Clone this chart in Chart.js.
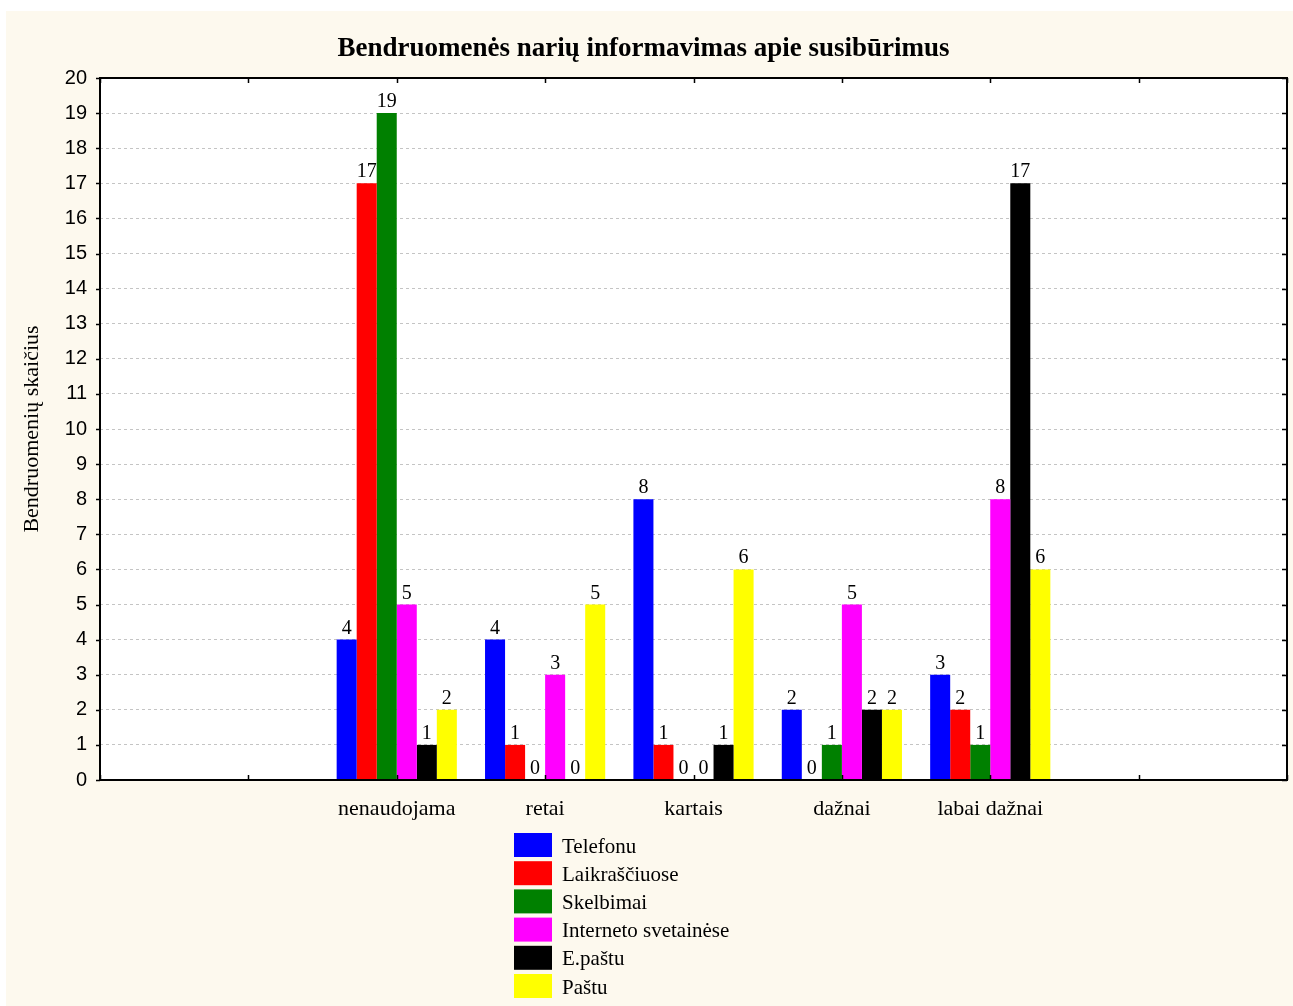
<!DOCTYPE html>
<html>
<head>
<meta charset="utf-8">
<script src="https://cdn.jsdelivr.net/npm/chart.js@4/dist/chart.umd.min.js"></script>
<style>
html,body{margin:0;padding:0;background:#ffffff;}
#wrap{position:absolute;left:0;top:0;width:1293px;height:1006px;}
</style>
</head>
<body>
<div id="wrap"><canvas id="c" width="1293" height="1006"></canvas></div>
<script>
const categories = ['nenaudojama', 'retai', 'kartais', 'dažnai', 'labai dažnai'];
const seriesNames = ['Telefonu', 'Laikraščiuose', 'Skelbimai', 'Interneto svetainėse', 'E.paštu', 'Paštu'];
const telefonu = [4, 4, 8, 2, 3];
const laikrasciuose = [17, 1, 1, 0, 2];
const skelbimai = [19, 0, 0, 1, 1];
const interneto = [5, 3, 0, 5, 8];
const epastu = [1, 0, 1, 2, 17];
const pastu = [2, 5, 6, 2, 6];
const seriesColors = ['#0000ff', '#ff0000', '#008000', '#ff00ff', '#000000', '#ffff00'];
const yTicks = [0,1,2,3,4,5,6,7,8,9,10,11,12,13,14,15,16,17,18,19,20];

const seriesValues = [telefonu, laikrasciuose, skelbimai, interneto, epastu, pastu];
// two empty slots on each side of the categories
const labels = ['', ''].concat(categories, ['', '']);
const pad = arr => [null, null].concat(arr, [null, null]);

const SERIF = "'Liberation Serif', 'Times New Roman', serif";
const SANS = "'Liberation Sans', Arial, sans-serif";

const decorPlugin = {
  id: 'decor',
  beforeDraw(chart) {
    const ctx = chart.ctx;
    ctx.save();
    ctx.fillStyle = '#ffffff';
    ctx.fillRect(0, 0, chart.width, chart.height);
    ctx.fillStyle = '#fdf9ee';
    ctx.fillRect(6, 11, chart.width - 6, chart.height - 11);
    const a = chart.chartArea;
    ctx.fillStyle = '#ffffff';
    ctx.fillRect(a.left, a.top, a.right - a.left, a.bottom - a.top);
    ctx.restore();
  },
  afterDatasetsDraw(chart) {
    const ctx = chart.ctx;
    const a = chart.chartArea;
    ctx.save();
    // value labels
    ctx.font = '20px ' + SERIF;
    ctx.fillStyle = '#000';
    ctx.textAlign = 'center';
    ctx.textBaseline = 'alphabetic';
    chart.data.datasets.forEach((ds, di) => {
      const meta = chart.getDatasetMeta(di);
      meta.data.forEach((el, i) => {
        const v = ds.data[i];
        if (v === null || v === undefined) return;
        ctx.fillText(String(v), el.x, el.y - 6);
      });
    });
    // frame
    ctx.strokeStyle = '#000';
    ctx.lineWidth = 2;
    ctx.strokeRect(a.left, a.top, a.right - a.left, a.bottom - a.top);
    // tick marks
    ctx.lineWidth = 1.5;
    const xs = chart.scales.x, ys = chart.scales.y;
    ctx.beginPath();
    for (let i = 0; i < labels.length; i++) {
      const px = Math.round(xs.getPixelForValue(i)) + 0.5;
      ctx.moveTo(px, a.bottom); ctx.lineTo(px, a.bottom - 5);
      ctx.moveTo(px, a.top); ctx.lineTo(px, a.top + 5);
    }
    yTicks.forEach(t => {
      const py = Math.round(ys.getPixelForValue(t)) + 0.5;
      ctx.moveTo(a.left - 4, py); ctx.lineTo(a.left, py);
      ctx.moveTo(a.right, py); ctx.lineTo(a.right - 5, py);
    });
    ctx.stroke();
    // legend
    ctx.font = '21px ' + SERIF;
    ctx.textAlign = 'left';
    ctx.textBaseline = 'middle';
    chart.data.datasets.forEach((ds, di) => {
      const top = 833 + di * 28.2;
      ctx.fillStyle = ds.backgroundColor;
      ctx.fillRect(514, top, 38, 24);
      ctx.fillStyle = '#000';
      ctx.fillText(ds.label, 562, top + 14);
    });
    ctx.restore();
  }
};

new Chart(document.getElementById('c'), {
  type: 'bar',
  data: {
    labels: labels,
    datasets: seriesNames.map((name, i) => ({
      label: name,
      data: pad(seriesValues[i]),
      backgroundColor: seriesColors[i],
      borderWidth: 0,
      categoryPercentage: 0.81,
      barPercentage: 1.0
    }))
  },
  options: {
    responsive: false,
    animation: false,
    devicePixelRatio: 1,
    layout: { padding: { left: 0, right: 6, top: 0, bottom: 0 } },
    plugins: {
      legend: { display: false },
      tooltip: { enabled: false },
      title: {
        display: true,
        text: 'Bendruomenės narių informavimas apie susibūrimus',
        color: '#000',
        font: { family: SERIF, size: 27, weight: 'bold' },
        padding: { top: 33, bottom: 12.6 }
      }
    },
    scales: {
      x: {
        type: 'category',
        offset: false,
        grid: { display: false, drawTicks: false },
        border: { display: false },
        ticks: {
          color: '#000',
          font: { family: SERIF, size: 22 },
          padding: 16,
          autoSkip: false,
          maxRotation: 0
        },
        afterFit(scale) { scale.height = 226; scale.paddingLeft = 0; scale.paddingRight = 0; }
      },
      y: {
        min: 0,
        max: 20,
        ticks: {
          stepSize: 1,
          color: '#000',
          font: { family: SANS, size: 20 },
          padding: 13
        },
        grid: {
          color: '#c4c4c4',
          lineWidth: 1,
          drawTicks: false
        },
        border: { display: false, dash: [3, 3] },
        title: {
          display: true,
          text: 'Bendruomenių skaičius',
          color: '#000',
          font: { family: SERIF, size: 22 },
          padding: { top: 19, bottom: 0 }
        },
        afterFit(scale) { scale.width = 100; scale.paddingTop = 0; scale.paddingBottom = 0; }
      }
    }
  },
  plugins: [decorPlugin]
});
</script>
</body>
</html>
